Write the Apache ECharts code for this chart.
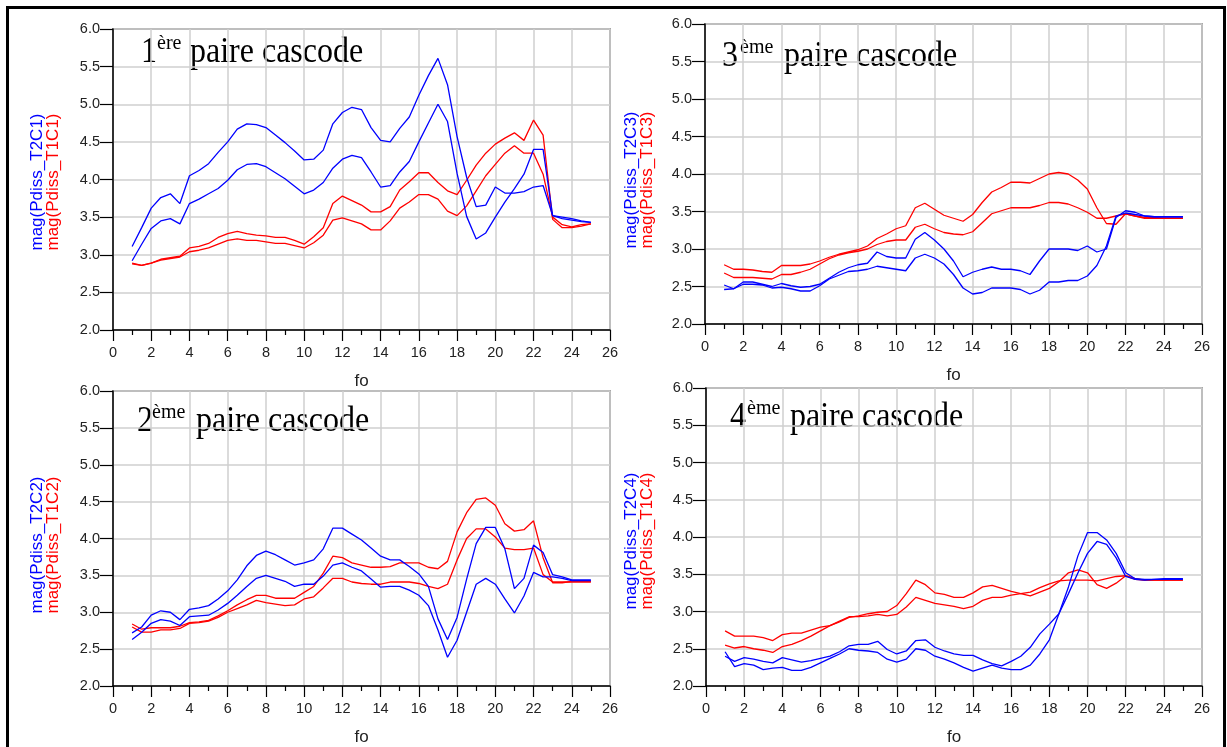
<!DOCTYPE html>
<html>
<head>
<meta charset="utf-8">
<script src="https://cdn.jsdelivr.net/npm/echarts@6/dist/echarts.min.js"></script>
<style>
  html, body { margin: 0; padding: 0; background: #fff; }
  #chart { width: 1227px; height: 747px; }
</style>
</head>
<body>
<div id="chart"></div>
<script>
// Fundamental frequency sweep (fo) shared by all four cascode pairs
const fo = [1, 1.5, 2, 2.5, 3, 3.5, 4, 4.5, 5, 5.5, 6, 6.5, 7, 7.5, 8, 8.5, 9, 9.5, 10, 10.5,
            11, 11.5, 12, 12.5, 13, 13.5, 14, 14.5, 15, 15.5, 16, 16.5, 17, 17.5, 18, 18.5, 19, 19.5, 20, 20.5,
            21, 21.5, 22, 22.5, 23, 23.5, 24, 24.5, 25];

const yTicks = [2.0, 2.5, 3.0, 3.5, 4.0, 4.5, 5.0, 5.5, 6.0];
const xTicks = [0, 2, 4, 6, 8, 10, 12, 14, 16, 18, 20, 22, 24, 26];

// 1st cascode pair
const pair1_T2C1_a = [3.11,3.36,3.62,3.76,3.81,3.68,4.05,4.12,4.21,4.36, 4.50,4.67,4.74,4.73,4.69,4.59,4.49,4.38,4.26,4.27,
  4.39,4.74,4.89,4.96,4.93,4.69,4.52,4.50,4.68,4.83, 5.12,5.38,5.61,5.26,4.57,4.03,3.64,3.66,3.90,3.82, 3.82,3.84,3.90,3.92,3.52,3.50,3.48,3.45,3.43];
const pair1_T2C1_b = [2.92,3.14,3.35,3.45,3.48,3.41,3.68,3.74,3.81,3.88, 3.99,4.13,4.20,4.21,4.17,4.09,4.01,3.91,3.81,3.86,
  3.96,4.15,4.27,4.32,4.29,4.10,3.90,3.92,4.10,4.24, 4.50,4.75,5.00,4.77,4.08,3.51,3.21,3.29,3.50,3.70, 3.88,4.07,4.40,4.40,3.52,3.48,3.46,3.44,3.43];
const pair1_T1C1_a = [2.89,2.86,2.89,2.94,2.96,2.98,3.09,3.11,3.15,3.23, 3.28,3.31,3.28,3.26,3.25,3.23,3.23,3.19,3.14,3.24,
  3.36,3.68,3.78,3.72,3.66,3.57,3.57,3.64,3.86,3.97, 4.09,4.09,3.96,3.85,3.80,3.99,4.19,4.35,4.47,4.55, 4.62,4.52,4.79,4.59,3.47,3.36,3.36,3.38,3.41];
const pair1_T1C1_b = [2.88,2.86,2.89,2.93,2.95,2.97,3.04,3.06,3.09,3.14, 3.19,3.21,3.19,3.19,3.17,3.15,3.15,3.12,3.09,3.16,
  3.26,3.46,3.49,3.45,3.41,3.33,3.33,3.45,3.62,3.70, 3.80,3.80,3.74,3.58,3.52,3.65,3.85,4.05,4.20,4.35, 4.45,4.35,4.35,4.07,3.50,3.40,3.37,3.40,3.41];

// 3rd cascode pair
const pair3_T2C3_a = [2.52,2.47,2.56,2.56,2.53,2.50,2.54,2.51,2.49,2.50, 2.53,2.61,2.69,2.75,2.79,2.81,2.96,2.90,2.88,2.88,
  3.13,3.22,3.12,3.00,2.84,2.63,2.69,2.73,2.76,2.73, 2.73,2.71,2.66,2.84,3.00,3.00,3.00,2.98,3.04,2.96, 3.00,3.42,3.51,3.49,3.44,3.43,3.43,3.43,3.43];
const pair3_T2C3_b = [2.46,2.47,2.53,2.53,2.52,2.48,2.49,2.47,2.44,2.44, 2.51,2.60,2.65,2.70,2.71,2.73,2.77,2.75,2.73,2.71,
  2.88,2.93,2.88,2.80,2.66,2.48,2.40,2.42,2.48,2.48, 2.48,2.46,2.40,2.45,2.56,2.56,2.58,2.58,2.64,2.78, 3.04,3.44,3.48,3.46,3.44,3.43,3.43,3.43,3.43];
const pair3_T1C3_a = [2.79,2.73,2.73,2.72,2.70,2.69,2.78,2.78,2.78,2.80, 2.84,2.89,2.93,2.96,2.99,3.04,3.14,3.20,3.27,3.31,
  3.55,3.61,3.53,3.45,3.41,3.37,3.46,3.62,3.76,3.82, 3.89,3.89,3.88,3.94,4.00,4.02,4.00,3.92,3.80,3.55, 3.34,3.33,3.47,3.44,3.42,3.42,3.41,3.41,3.41];
const pair3_T1C3_b = [2.68,2.62,2.62,2.62,2.61,2.60,2.66,2.66,2.69,2.73, 2.80,2.87,2.92,2.95,2.97,3.00,3.06,3.10,3.12,3.12,
  3.29,3.33,3.27,3.22,3.20,3.19,3.23,3.35,3.47,3.51, 3.55,3.55,3.55,3.58,3.62,3.62,3.60,3.55,3.49,3.41, 3.41,3.44,3.47,3.44,3.41,3.41,3.41,3.41,3.41];

// 2nd cascode pair
const pair2_T2C2_a = [2.72,2.80,2.96,3.02,3.00,2.90,3.04,3.06,3.09,3.18, 3.29,3.44,3.63,3.77,3.83,3.78,3.71,3.64,3.67,3.71,
  3.86,4.14,4.14,4.06,3.98,3.87,3.76,3.71,3.71,3.62, 3.52,3.35,2.91,2.63,2.93,3.45,3.93,4.15,4.15,3.86, 3.32,3.46,3.91,3.81,3.51,3.48,3.44,3.44,3.44];
const pair2_T2C2_b = [2.63,2.73,2.85,2.90,2.88,2.82,2.94,2.95,2.96,3.03, 3.12,3.23,3.35,3.46,3.50,3.46,3.42,3.35,3.38,3.38,
  3.49,3.64,3.67,3.61,3.56,3.45,3.34,3.35,3.35,3.30, 3.23,3.09,2.76,2.39,2.62,3.00,3.38,3.46,3.38,3.18, 2.99,3.22,3.54,3.48,3.48,3.46,3.43,3.43,3.43];
const pair2_T1C2_a = [2.84,2.77,2.79,2.79,2.79,2.81,2.86,2.87,2.89,2.95, 3.02,3.10,3.17,3.23,3.23,3.19,3.19,3.19,3.27,3.35,
  3.53,3.76,3.74,3.67,3.64,3.61,3.61,3.62,3.67,3.67, 3.67,3.61,3.59,3.69,4.09,4.35,4.53,4.55,4.45,4.20, 4.10,4.12,4.24,3.74,3.40,3.40,3.42,3.42,3.42];
const pair2_T1C2_b = [2.80,2.73,2.73,2.76,2.76,2.78,2.85,2.86,2.88,2.93, 3.00,3.05,3.10,3.16,3.13,3.11,3.09,3.10,3.18,3.21,
  3.33,3.46,3.46,3.41,3.39,3.38,3.38,3.41,3.41,3.41, 3.39,3.35,3.32,3.38,3.71,4.00,4.13,4.13,4.02,3.87, 3.85,3.85,3.87,3.51,3.41,3.41,3.41,3.41,3.41];

// 4th cascode pair
const pair4_T2C4_a = [2.40,2.33,2.38,2.36,2.33,2.31,2.38,2.35,2.32,2.34, 2.37,2.40,2.46,2.54,2.56,2.56,2.60,2.49,2.43,2.47,
  2.61,2.62,2.52,2.47,2.43,2.41,2.41,2.35,2.30,2.27, 2.33,2.40,2.52,2.70,2.83,2.97,3.33,3.75,4.06,4.06, 3.96,3.78,3.52,3.44,3.43,3.43,3.44,3.44,3.44];
const pair4_T2C4_b = [2.46,2.26,2.30,2.28,2.22,2.24,2.25,2.21,2.21,2.25, 2.31,2.37,2.43,2.50,2.48,2.47,2.45,2.36,2.32,2.36,
  2.50,2.48,2.40,2.36,2.31,2.25,2.20,2.24,2.28,2.24, 2.22,2.22,2.28,2.43,2.62,2.97,3.24,3.52,3.78,3.94, 3.90,3.72,3.47,3.43,3.42,3.43,3.43,3.43,3.43];
const pair4_T1C4_a = [2.74,2.67,2.67,2.67,2.65,2.61,2.69,2.71,2.71,2.75, 2.79,2.81,2.86,2.92,2.94,2.97,2.99,3.00,3.08,3.24,
  3.42,3.36,3.25,3.23,3.19,3.19,3.25,3.33,3.35,3.31, 3.27,3.24,3.21,3.26,3.31,3.40,3.52,3.56,3.52,3.36, 3.31,3.38,3.48,3.43,3.42,3.42,3.42,3.42,3.42];
const pair4_T1C4_b = [2.55,2.51,2.53,2.50,2.48,2.45,2.53,2.56,2.61,2.67, 2.74,2.81,2.87,2.93,2.93,2.94,2.96,2.94,2.96,3.06,
  3.19,3.15,3.11,3.09,3.07,3.04,3.07,3.15,3.19,3.19, 3.22,3.24,3.26,3.32,3.37,3.41,3.42,3.42,3.42,3.41, 3.44,3.47,3.48,3.44,3.42,3.42,3.42,3.42,3.42];

const BLUE = '#0000ff';
const RED = '#ff0000';
const SANS = 'Liberation Sans, Arial, sans-serif';
const SERIF = 'Liberation Serif, Times New Roman, serif';

// Panel layout: plot rectangle, titles and y-axis captions
const panels = [
  { grid: { left: 113, top: 29, width: 497, height: 301 },
    num: '1', sup: 'ère', numX: 141, supX: 157, mainX: 190, base: 63,
    capX: 45, capY: 182, blue: 'mag(Pdiss_T2C1)', red: 'mag(Pdiss_T1C1)',
    series: [pair1_T1C1_a, pair1_T1C1_b, pair1_T2C1_a, pair1_T2C1_b] },
  { grid: { left: 705, top: 24, width: 497, height: 300 },
    num: '3', sup: 'ème', numX: 722, supX: 740, mainX: 784, base: 67,
    capX: 639, capY: 180, blue: 'mag(Pdiss_T2C3)', red: 'mag(Pdiss_T1C3)',
    series: [pair3_T1C3_a, pair3_T1C3_b, pair3_T2C3_a, pair3_T2C3_b] },
  { grid: { left: 113, top: 391, width: 497, height: 300 },
    num: '2', sup: 'ème', numX: 137, supX: 152, mainX: 196, base: 432,
    capX: 45, capY: 545, blue: 'mag(Pdiss_T2C2)', red: 'mag(Pdiss_T1C2)',
    series: [pair2_T1C2_a, pair2_T1C2_b, pair2_T2C2_a, pair2_T2C2_b] },
  { grid: { left: 706, top: 388, width: 496, height: 302 },
    num: '4', sup: 'ème', numX: 730, supX: 747, mainX: 790, base: 428,
    capX: 639, capY: 541, blue: 'mag(Pdiss_T2C4)', red: 'mag(Pdiss_T1C4)',
    series: [pair4_T1C4_a, pair4_T1C4_b, pair4_T2C4_a, pair4_T2C4_b] }
];

const grids = [], xAxes = [], yAxes = [], series = [], graphics = [];

// Outer frame
graphics.push({
  type: 'rect', shape: { x: 7.5, y: 7.5, width: 1217, height: 780 },
  style: { fill: 'none', stroke: '#000', lineWidth: 3 }, silent: true
});

const MAIN = 32, SUP = 20, STRETCH = 1.12;
const mid = (base, size) => base - 0.32 * size;
const TICK_FONT = 14.5;

panels.forEach((p, i) => {
  grids.push(Object.assign({ show: true, borderColor: '#666', borderWidth: 1.5, backgroundColor: '#fff', containLabel: false }, p.grid));

  xAxes.push({
    gridIndex: i, type: 'value', min: xTicks[0], max: xTicks[xTicks.length - 1], interval: 2,
    name: 'fo', nameLocation: 'middle', nameGap: 43,
    nameTextStyle: { fontSize: 17, color: '#222', fontFamily: SANS },
    axisLine: { show: true, onZero: false, lineStyle: { color: '#000', width: 1.5 } },
    axisTick: { show: true, length: 11, lineStyle: { color: '#000', width: 1.2 } },
    minorTick: { show: true, splitNumber: 2, length: 5, lineStyle: { color: '#000', width: 1.2 } },
    axisLabel: { fontSize: TICK_FONT, color: '#222', fontFamily: SANS, margin: 15 },
    splitLine: { show: true, lineStyle: { color: '#cfcfcf', width: 1.5 } }
  });

  yAxes.push({
    gridIndex: i, type: 'value', min: yTicks[0], max: yTicks[yTicks.length - 1], interval: 0.5,
    axisLine: { show: true, onZero: false, lineStyle: { color: '#000', width: 1.5 } },
    axisTick: { show: true, length: 13, lineStyle: { color: '#000', width: 1.2 } },
    axisLabel: { fontSize: TICK_FONT, color: '#222', fontFamily: SANS, margin: 13, formatter: v => v.toFixed(1) },
    splitLine: { show: true, lineStyle: { color: '#cfcfcf', width: 1.5 } }
  });

  p.series.forEach((vals, k) => {
    series.push({
      type: 'line', xAxisIndex: i, yAxisIndex: i,
      data: fo.map((f, j) => [f, vals[j]]),
      showSymbol: false, symbol: 'none', silent: true,
      lineStyle: { color: k < 2 ? RED : BLUE, width: 1.3 },
      z: 3
    });
  });

  // Panel title: "Nème paire cascode" (slightly tall serif lettering)
  graphics.push({ type: 'text', x: p.numX, y: mid(p.base, MAIN), scaleY: STRETCH, silent: true,
    style: { text: p.num, font: MAIN + 'px ' + SERIF, fill: '#000', align: 'left', verticalAlign: 'middle' } });
  graphics.push({ type: 'text', x: p.supX, y: mid(p.base - 13, SUP), silent: true,
    style: { text: p.sup, font: SUP + 'px ' + SERIF, fill: '#000', align: 'left', verticalAlign: 'middle' } });
  graphics.push({ type: 'text', x: p.mainX, y: mid(p.base, MAIN), scaleY: STRETCH, silent: true,
    style: { text: 'paire cascode', font: MAIN + 'px ' + SERIF, fill: '#000', align: 'left', verticalAlign: 'middle' } });

  // Vertical axis caption, two colored lines
  graphics.push({ type: 'text', x: p.capX - 8, y: p.capY, rotation: Math.PI / 2, silent: true,
    style: { text: p.blue, font: '17px ' + SANS, fill: BLUE, align: 'center', verticalAlign: 'middle' } });
  graphics.push({ type: 'text', x: p.capX + 8, y: p.capY, rotation: Math.PI / 2, silent: true,
    style: { text: p.red, font: '17px ' + SANS, fill: RED, align: 'center', verticalAlign: 'middle' } });
});

const chart = echarts.init(document.getElementById('chart'), null, { renderer: 'canvas' });
chart.setOption({
  animation: false,
  backgroundColor: '#fff',
  grid: grids,
  xAxis: xAxes,
  yAxis: yAxes,
  series: series,
  graphic: graphics
});
</script>
</body>
</html>
